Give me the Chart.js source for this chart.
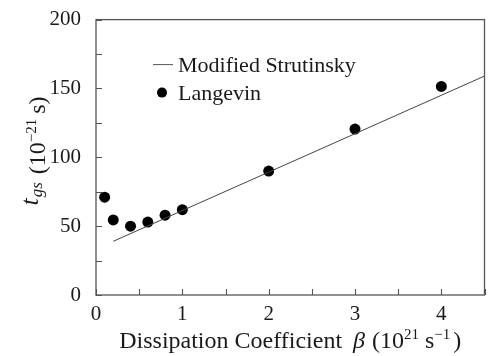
<!DOCTYPE html>
<html>
<head>
<meta charset="utf-8">
<script src="https://cdn.jsdelivr.net/npm/chart.js@4"></script>
<style>
  html, body { margin: 0; padding: 0; background: #fff; }
  #wrap { width: 490px; height: 356px; }
</style>
</head>
<body>
<div id="wrap"><canvas id="tgs-chart"></canvas></div>
<script>
// Langevin points: dissipation coefficient vs. saddle time
const betaLangevin = [0.1, 0.2, 0.4, 0.6, 0.8, 1, 2, 3, 4];
const tgsLangevin = [71, 54.5, 50, 53, 58, 62, 90, 120.5, 151.5];
// Modified Strutinsky curve (straight line)
const betaStrutinsky = [0.2, 4.5];
const tgsStrutinsky = [39, 159];
// axis ticks
const xMajorTicks = [0, 1, 2, 3, 4];
const yMajorTicks = [0, 50, 100, 150, 200];

var serif = "'Liberation Serif', 'Times New Roman', serif";
var ink = "#1a1a1a";

function toPoints(xs, ys) {
  return xs.map((x, i) => ({ x: x, y: ys[i] }));
}

// draws a row of text pieces (sub/superscripts) centred on x
function drawRuns(ctx, runs, x, y) {
  var total = 0;
  runs.forEach(r => {
    ctx.font = r.font;
    r.w = ctx.measureText(r.text).width + (r.gap || 0);
    total += r.w;
  });
  var cx = x - total / 2;
  ctx.textAlign = "left";
  ctx.textBaseline = "alphabetic";
  runs.forEach(r => {
    ctx.font = r.font;
    ctx.fillText(r.text, cx, y + (r.dy || 0));
    cx += r.w;
  });
}

const framePlugin = {
  id: "frame",
  afterDraw(chart) {
    var ctx = chart.ctx;
    var a = chart.chartArea;
    var xs = chart.scales.x, ys = chart.scales.y;
    ctx.save();
    // box round the plot
    ctx.strokeStyle = "#555";
    ctx.lineWidth = 1.3;
    ctx.strokeRect(a.left, a.top, a.right - a.left, a.bottom - a.top);
    // inward tick marks
    ctx.lineWidth = 1.1;
    ctx.beginPath();
    xs.ticks.forEach(t => {
      var px = Math.round(xs.getPixelForValue(t.value)) + 0.5;
      ctx.moveTo(px, a.bottom);
      ctx.lineTo(px, a.bottom - 6);
    });
    ys.ticks.forEach(t => {
      var py = Math.round(ys.getPixelForValue(t.value)) + 0.5;
      ctx.moveTo(a.left, py);
      ctx.lineTo(a.left + 6, py);
    });
    ctx.stroke();

    // legend
    var ds = chart.data.datasets;
    var lx = a.left + 57, ly = a.top + 45;
    ctx.strokeStyle = "#555";
    ctx.lineWidth = 1;
    ctx.beginPath();
    ctx.moveTo(lx, ly);
    ctx.lineTo(lx + 20, ly);
    ctx.stroke();
    ctx.fillStyle = "#000";
    ctx.beginPath();
    ctx.arc(lx + 9, ly + 28, 5, 0, Math.PI * 2);
    ctx.fill();
    ctx.fillStyle = ink;
    ctx.font = "22px " + serif;
    ctx.textAlign = "left";
    ctx.textBaseline = "alphabetic";
    ctx.fillText(ds[0].label, lx + 25, ly + 7);
    ctx.fillText(ds[1].label, lx + 25, ly + 35);

    // x axis title
    var big = "24px " + serif, small = "15px " + serif;
    drawRuns(ctx, [
      { text: "Dissipation Coefficient", font: big, gap: 11 },
      { text: "\u03B2", font: "italic " + big, gap: 7 },
      { text: "(10", font: big },
      { text: "21", font: small, dy: -9, gap: 6 },
      { text: "s", font: big },
      { text: "\u22121", font: small, dy: -9, gap: 3 },
      { text: ")", font: big }
    ], (a.left + a.right) / 2, 348);

    // y axis title, rotated
    ctx.translate(45, 151);
    ctx.rotate(-Math.PI / 2);
    drawRuns(ctx, [
      { text: "t", font: "italic 26px " + serif, dy: -7, gap: 1 },
      { text: "gs", font: "italic 17px " + serif, dy: -3, gap: 8 },
      { text: "(10", font: big },
      { text: "\u221221", font: small, dy: -9, gap: 5 },
      { text: "s)", font: big }
    ], 0, 0);
    ctx.restore();
  }
};

new Chart(document.getElementById("tgs-chart").getContext("2d"), {
  type: "scatter",
  data: {
    datasets: [{
      label: "Modified Strutinsky",
      data: toPoints(betaStrutinsky, tgsStrutinsky),
      showLine: true,
      borderColor: "#444",
      borderWidth: 1,
      pointRadius: 0,
      fill: false
    }, {
      label: "Langevin",
      data: toPoints(betaLangevin, tgsLangevin),
      showLine: false,
      backgroundColor: "#000",
      borderColor: "#000",
      borderWidth: 0,
      pointRadius: 5.5
    }]
  },
  options: {
    responsive: true,
    maintainAspectRatio: false,
    animation: false,
    layout: { padding: { top: 17, right: 4, left: 0, bottom: 0 } },
    plugins: {
      legend: { display: false },
      tooltip: { enabled: false }
    },
    scales: {
      x: {
        type: "linear",
        min: 0,
        max: 4.5,
        grid: { display: false },
        border: { display: false },
        afterFit: scale => { scale.height = 61; },
        ticks: {
          stepSize: 0.5,
          autoSkip: false,
          maxRotation: 0,
          padding: -1,
          color: ink,
          font: { family: serif, size: 21 },
          callback: v => xMajorTicks.includes(v) ? v : ""
        }
      },
      y: {
        min: 0,
        max: 200,
        grid: { display: false },
        border: { display: false },
        afterFit: scale => { scale.width = 96; },
        ticks: {
          stepSize: 25,
          autoSkip: false,
          padding: 7,
          color: ink,
          font: { family: serif, size: 21 },
          callback: v => yMajorTicks.includes(v) ? v : ""
        }
      }
    }
  },
  plugins: [framePlugin]
});
</script>
</body>
</html>
